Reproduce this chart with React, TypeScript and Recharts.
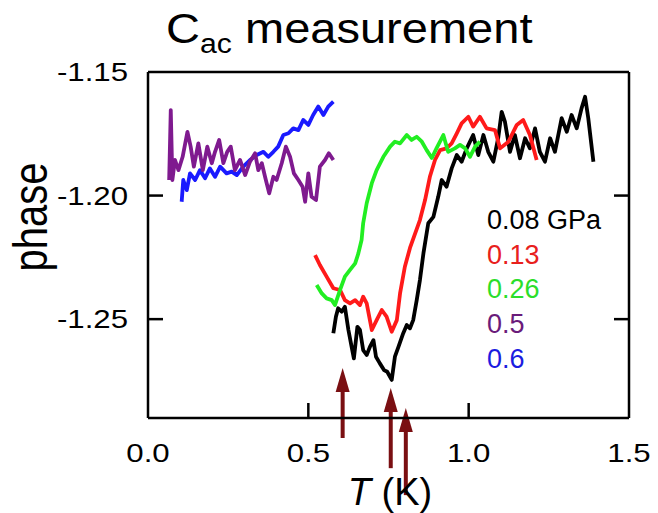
import React from "react";
import { LineChart, Line, XAxis, YAxis, ReferenceLine } from "recharts";

const FONT = '"Liberation Sans", Arial, Helvetica, sans-serif';

const T_DOMAIN = [0, 1.5];
const PHASE_DOMAIN = [-1.29, -1.15];
const T_TICKS = [0, 0.5, 1.0, 1.5];
const PHASE_TICKS = [-1.25, -1.2, -1.15];

// [T (K), phase]
const p008: [number, number][] = [
  [0.578, -1.2557], [0.586, -1.249], [0.593, -1.2456], [0.604, -1.247], [0.614, -1.245],
  [0.625, -1.2544], [0.635, -1.2612], [0.642, -1.2659], [0.653, -1.2531], [0.661, -1.2544],
  [0.671, -1.2625], [0.682, -1.2645], [0.692, -1.2612], [0.703, -1.2585], [0.711, -1.2652],
  [0.723, -1.2679], [0.736, -1.2706], [0.746, -1.2713], [0.76, -1.2746], [0.77, -1.2652],
  [0.781, -1.2612], [0.796, -1.2557], [0.807, -1.2524], [0.817, -1.2537], [0.827, -1.2504],
  [0.838, -1.2423], [0.848, -1.2342], [0.859, -1.2233], [0.874, -1.2112], [0.89, -1.2086],
  [0.905, -1.2005], [0.916, -1.1937], [0.931, -1.1964], [0.947, -1.189], [0.963, -1.1836],
  [0.978, -1.1863], [0.994, -1.1809], [1.014, -1.1755], [1.03, -1.1836], [1.046, -1.1755],
  [1.061, -1.1823], [1.077, -1.1863], [1.092, -1.1768], [1.103, -1.1661], [1.113, -1.1701],
  [1.129, -1.1823], [1.144, -1.1755], [1.16, -1.1849], [1.176, -1.1768], [1.191, -1.1809],
  [1.207, -1.1728], [1.222, -1.1823], [1.238, -1.1863], [1.254, -1.1768], [1.269, -1.1823],
  [1.29, -1.1687], [1.306, -1.1742], [1.321, -1.1674], [1.337, -1.1728], [1.352, -1.1647],
  [1.363, -1.16], [1.373, -1.1687], [1.389, -1.1863],
];

const p013: [number, number][] = [
  [0.521, -1.2241], [0.536, -1.2281], [0.557, -1.2328], [0.578, -1.2375], [0.599, -1.2382],
  [0.614, -1.2423], [0.63, -1.2436], [0.646, -1.2423], [0.661, -1.2443], [0.671, -1.2409],
  [0.682, -1.2436], [0.698, -1.2544], [0.713, -1.2504], [0.729, -1.2463], [0.744, -1.249],
  [0.76, -1.2551], [0.776, -1.2504], [0.786, -1.2396], [0.801, -1.2288], [0.817, -1.2212],
  [0.848, -1.2099], [0.864, -1.2018], [0.879, -1.1924], [0.895, -1.1856], [0.911, -1.1816],
  [0.931, -1.1809], [0.947, -1.1789], [0.963, -1.1748], [0.978, -1.1708], [0.999, -1.1681],
  [1.014, -1.1721], [1.035, -1.1681], [1.056, -1.1728], [1.082, -1.1735], [1.098, -1.1809],
  [1.124, -1.1782], [1.15, -1.1714], [1.17, -1.1694], [1.191, -1.1755], [1.212, -1.1856],
];

const p026: [number, number][] = [
  [0.526, -1.2362], [0.542, -1.2396], [0.557, -1.2416], [0.573, -1.2423], [0.583, -1.2443],
  [0.599, -1.2382], [0.614, -1.2328], [0.63, -1.2301], [0.646, -1.2274], [0.656, -1.2234],
  [0.666, -1.218], [0.671, -1.2112], [0.682, -1.2031], [0.698, -1.195], [0.713, -1.1897],
  [0.734, -1.1843], [0.755, -1.1802], [0.77, -1.1782], [0.786, -1.1789], [0.807, -1.1755],
  [0.822, -1.1775], [0.838, -1.1762], [0.854, -1.1782], [0.869, -1.1816], [0.885, -1.1848],
  [0.9, -1.1808], [0.921, -1.1755], [0.936, -1.1823], [0.957, -1.1809], [0.973, -1.1795],
  [0.989, -1.1809], [1.004, -1.1843], [1.02, -1.1802], [1.035, -1.1782],
];

const p05: [number, number][] = [
  [0.066, -1.1937], [0.071, -1.1654], [0.076, -1.1937], [0.084, -1.1856], [0.095, -1.1897],
  [0.108, -1.1843], [0.123, -1.1742], [0.133, -1.1802], [0.143, -1.1883], [0.157, -1.1789],
  [0.171, -1.1897], [0.185, -1.1802], [0.199, -1.1869], [0.209, -1.1823], [0.222, -1.1775],
  [0.235, -1.1869], [0.247, -1.1823], [0.258, -1.1802], [0.271, -1.1897], [0.287, -1.1856],
  [0.303, -1.1917], [0.318, -1.1863], [0.334, -1.1829], [0.344, -1.1897], [0.355, -1.1869],
  [0.365, -1.1924], [0.378, -1.1991], [0.391, -1.1924], [0.401, -1.1937], [0.417, -1.1869],
  [0.43, -1.1802], [0.443, -1.1843], [0.455, -1.191], [0.469, -1.1937], [0.482, -1.1964],
  [0.49, -1.2025], [0.5, -1.191], [0.51, -1.2005], [0.524, -1.2018], [0.536, -1.1883],
  [0.552, -1.1856], [0.564, -1.1829], [0.578, -1.1856],
];

const p06: [number, number][] = [
  [0.105, -1.2025], [0.11, -1.1937], [0.121, -1.1978], [0.131, -1.191], [0.147, -1.1937],
  [0.162, -1.1897], [0.178, -1.193], [0.193, -1.189], [0.209, -1.1924], [0.225, -1.1883],
  [0.245, -1.191], [0.261, -1.1903], [0.277, -1.1917], [0.297, -1.1883], [0.318, -1.1856],
  [0.339, -1.1836], [0.36, -1.1823], [0.375, -1.1843], [0.391, -1.1823], [0.406, -1.1802],
  [0.422, -1.1755], [0.438, -1.1748], [0.453, -1.1728], [0.469, -1.1735], [0.484, -1.1694],
  [0.5, -1.1714], [0.515, -1.1674], [0.531, -1.164], [0.547, -1.1674], [0.562, -1.164],
  [0.578, -1.162],
];

// arrows marking the transitions
const arrowT = [0.607, 0.757, 0.804];
const arrowTip = [-1.2698, -1.2779, -1.286];
const arrowTail = [-1.2981, -1.3103, -1.3212];

const legendLabels = ["0.08 GPa", "0.13", "0.26", "0.5", "0.6"];
const legendColors = ["#000000", "#e8201c", "#2bde2b", "#6a1b7a", "#1c1ce0"];

const series = [
  { id: "0.08", data: p008, color: "#000000" },
  { id: "0.13", data: p013, color: "#ff1a1a" },
  { id: "0.26", data: p026, color: "#22ee22" },
  { id: "0.6", data: p06, color: "#1a1aff" },
  { id: "0.5", data: p05, color: "#7f1a8f" },
];

const ARROW = "#7a0f12";
const TICK_LEN = 15;

const atEnd = (v: number, dom: number[]) =>
  Math.abs(v - dom[0]) < 1e-9 || Math.abs(v - dom[1]) < 1e-9;

const LeftTick = (p: any) => {
  const { x, y, payload } = p;
  return (
    <g>
      {!atEnd(payload.value, PHASE_DOMAIN) && (
        <line x1={x} y1={y} x2={x + TICK_LEN} y2={y} stroke="#000" strokeWidth={2.5} />
      )}
      <text
        transform={`translate(${x - 20},${y + 9}) scale(1.2,1)`}
        textAnchor="end"
        fontSize={26}
        fontFamily={FONT}
        fill="#000"
      >
        {Number(payload.value).toFixed(2)}
      </text>
    </g>
  );
};

const RightTick = (p: any) => {
  const { x, y, payload } = p;
  if (atEnd(payload.value, PHASE_DOMAIN)) return <g />;
  return <line x1={x} y1={y} x2={x - TICK_LEN} y2={y} stroke="#000" strokeWidth={2.5} />;
};

const BottomTick = (p: any) => {
  const { x, y, payload } = p;
  return (
    <g>
      {!atEnd(payload.value, T_DOMAIN) && (
        <line x1={x} y1={y} x2={x} y2={y - TICK_LEN} stroke="#000" strokeWidth={2.5} />
      )}
      <text
        transform={`translate(${x},${y + 44}) scale(1.2,1)`}
        textAnchor="middle"
        fontSize={26}
        fontFamily={FONT}
        fill="#000"
      >
        {Number(payload.value).toFixed(1)}
      </text>
    </g>
  );
};

const TopTick = (p: any) => {
  const { x, y, payload } = p;
  if (atEnd(payload.value, T_DOMAIN)) return <g />;
  return <line x1={x} y1={y} x2={x} y2={y + TICK_LEN} stroke="#000" strokeWidth={2.5} />;
};

const ArrowShape = (p: any) => {
  const { x1, y1, x2, y2 } = p;
  return (
    <g>
      <line x1={x1} y1={y1} x2={x2} y2={y2 + 20} stroke={ARROW} strokeWidth={4} />
      <polygon points={`${x2},${y2} ${x2 - 7},${y2 + 24} ${x2 + 7},${y2 + 24}`} fill={ARROW} />
    </g>
  );
};

const axisLine = { stroke: "#000", strokeWidth: 2.5 };

export default function App() {
  return (
    <div style={{ position: "absolute", left: 0, top: 0, width: 658, height: 513, background: "#fff" }}>
      <LineChart
        width={658}
        height={513}
        margin={{ top: 62, right: 19, bottom: 45, left: 88 }}
        style={{ fontFamily: FONT }}
      >
        <XAxis
          xAxisId="b"
          type="number"
          dataKey="0"
          domain={T_DOMAIN}
          ticks={T_TICKS}
          interval={0}
          height={50}
          tickSize={0}
          tickMargin={0}
          tickLine={false}
          axisLine={axisLine}
          tick={BottomTick}
          allowDataOverflow
        />
        <XAxis
          xAxisId="t"
          orientation="top"
          type="number"
          domain={T_DOMAIN}
          ticks={T_TICKS}
          interval={0}
          height={10}
          tickSize={0}
          tickMargin={0}
          tickLine={false}
          axisLine={axisLine}
          tick={TopTick}
          allowDataOverflow
        />
        <YAxis
          yAxisId="l"
          type="number"
          dataKey="1"
          domain={PHASE_DOMAIN}
          ticks={PHASE_TICKS}
          interval={0}
          width={60}
          tickSize={0}
          tickMargin={0}
          tickLine={false}
          axisLine={axisLine}
          tick={LeftTick}
          allowDataOverflow
        />
        <YAxis
          yAxisId="r"
          orientation="right"
          type="number"
          domain={PHASE_DOMAIN}
          ticks={PHASE_TICKS}
          interval={0}
          width={10}
          tickSize={0}
          tickMargin={0}
          tickLine={false}
          axisLine={axisLine}
          tick={RightTick}
          allowDataOverflow
        />
        {series.map((s) => (
          <Line
            key={s.id}
            xAxisId="b"
            yAxisId="l"
            data={s.data}
            dataKey={(d: [number, number]) => d[1]}
            type="linear"
            stroke={s.color}
            strokeWidth={3.8}
            strokeLinejoin="round"
            dot={false}
            activeDot={false}
            isAnimationActive={false}
          />
        ))}
        {arrowT.map((t, i) => (
          <ReferenceLine
            key={i}
            xAxisId="b"
            yAxisId="l"
            ifOverflow="visible"
            segment={[
              { x: t, y: arrowTail[i] },
              { x: t, y: arrowTip[i] },
            ]}
            shape={ArrowShape}
          />
        ))}
      </LineChart>
      <svg
        width={658}
        height={513}
        style={{ position: "absolute", left: 0, top: 0, pointerEvents: "none" }}
        fontFamily={FONT}
      >
        <text transform="translate(166,43) scale(1.12,1)" fontSize={42} fill="#000">
          C
          <tspan dy={10} fontSize={27}>ac</tspan>
          <tspan dy={-10} fontSize={42}> measurement</tspan>
        </text>
        <text
          transform="translate(47,217) rotate(-90) scale(1,1.2)"
          textAnchor="middle"
          fontSize={40}
          fill="#000"
        >
          phase
        </text>
        <text x={390} y={505} textAnchor="middle" fontSize={38} fill="#000">
          <tspan fontStyle="italic">T</tspan> (K)
        </text>
        {legendLabels.map((l, i) => (
          <text key={l} x={487} y={229 + i * 34.7} fontSize={27} fill={legendColors[i]}>
            {l}
          </text>
        ))}
      </svg>
    </div>
  );
}
